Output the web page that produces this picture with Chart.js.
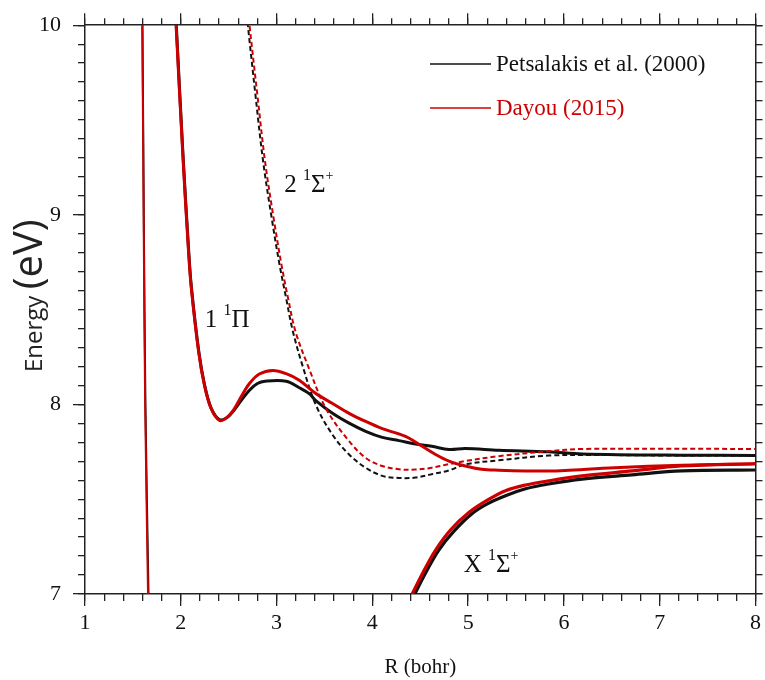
<!DOCTYPE html>
<html>
<head>
<meta charset="utf-8">
<script src="https://cdn.jsdelivr.net/npm/chart.js@4/dist/chart.umd.min.js"></script>
<style>
  body { margin: 0; background: #fff; }
</style>
</head>
<body>
<canvas id="chart" width="765" height="680"></canvas>
<script>
// potential energy curves, R in bohr, E in eV
const piDayouR = [1.941, 1.951, 2.021, 2.080, 2.108, 2.187, 2.247, 2.316, 2.405, 2.48, 2.55, 2.63, 2.717, 2.82, 2.96, 3.10, 3.237, 3.41, 3.584, 3.757, 3.93, 4.104, 4.278, 4.38, 4.52, 4.66, 4.80, 4.97, 5.14, 5.32, 5.6, 5.84, 6.01, 6.53, 7.23, 8.0];
const piDayouE = [10.1, 10.0, 9.318, 8.814, 8.623, 8.275, 8.101, 7.979, 7.915, 7.93, 7.97, 8.04, 8.11, 8.16, 8.179, 8.162, 8.127, 8.057, 8.005, 7.953, 7.910, 7.872, 7.844, 7.823, 7.779, 7.736, 7.701, 7.675, 7.658, 7.653, 7.649, 7.649, 7.652, 7.666, 7.679, 7.687];
const piPetsR = [1.943, 1.953, 2.023, 2.082, 2.11, 2.189, 2.249, 2.318, 2.405, 2.48, 2.55, 2.63, 2.717, 2.80, 2.88, 3.10, 3.237, 3.34, 3.41, 3.584, 3.757, 3.93, 4.104, 4.278, 4.45, 4.62, 4.80, 4.97, 5.32, 5.84, 6.19, 7.23, 8.0];
const piPetsE = [10.1, 10.0, 9.318, 8.814, 8.623, 8.275, 8.101, 7.979, 7.919, 7.93, 7.965, 8.02, 8.075, 8.11, 8.122, 8.122, 8.088, 8.057, 8.02, 7.953, 7.901, 7.858, 7.826, 7.809, 7.791, 7.779, 7.762, 7.767, 7.758, 7.750, 7.739, 7.732, 7.731];

const sig2DayouR = [2.70, 2.717, 2.80, 2.88, 2.97, 3.05, 3.12, 3.20, 3.34, 3.514, 3.757, 3.93, 4.104, 4.278, 4.45, 4.62, 4.80, 4.97, 5.32, 5.84, 6.2, 7.0, 8.0];
const sig2DayouE = [10.08, 10.0, 9.63, 9.28, 8.98, 8.74, 8.56, 8.38, 8.188, 7.979, 7.806, 7.718, 7.675, 7.658, 7.656, 7.666, 7.685, 7.701, 7.727, 7.753, 7.765, 7.766, 7.765];
const sig2PetsR = [2.68, 2.70, 2.78, 2.86, 2.95, 3.03, 3.10, 3.168, 3.27, 3.41, 3.584, 3.757, 3.93, 4.104, 4.278, 4.45, 4.62, 4.80, 4.97, 5.32, 5.84, 6.3, 7.0, 8.0];
const sig2PetsE = [10.1, 10.0, 9.63, 9.28, 8.98, 8.74, 8.56, 8.39, 8.206, 7.997, 7.840, 7.736, 7.666, 7.623, 7.612, 7.614, 7.632, 7.652, 7.684, 7.705, 7.730, 7.733, 7.731, 7.73];

const wallDayouR = [1.594, 1.598, 1.612, 1.628, 1.658, 1.662];
const wallDayouE = [10.1, 10.0, 9.0, 8.0, 7.0, 6.85];
const wallPetsR = [1.596, 1.600, 1.614, 1.631, 1.663, 1.667];
const wallPetsE = [10.1, 10.0, 9.0, 8.0, 7.0, 6.85];

const xDayouR = [4.325, 4.416, 4.53, 4.66, 4.82, 5.01, 5.2, 5.39, 5.6, 5.84, 6.19, 6.71, 7.23, 8.0];
const xDayouE = [6.9, 7.0, 7.115, 7.232, 7.34, 7.431, 7.495, 7.545, 7.575, 7.597, 7.623, 7.649, 7.675, 7.687];
const xPetsR = [4.35, 4.444, 4.56, 4.694, 4.85, 5.04, 5.2, 5.39, 5.6, 5.84, 6.19, 6.71, 7.23, 8.0];
const xPetsE = [6.9, 7.0, 7.115, 7.232, 7.33, 7.423, 7.475, 7.518, 7.555, 7.58, 7.606, 7.628, 7.649, 7.654];

const sources = ["Petsalakis et al. (2000)", "Dayou (2015)"];
const sourceColors = ["#111111", "#cc0000"];

// state labels, anchored in data units (left edge, baseline)
const stateLabels = [
  [{ t: "2 " }, { t: "1", sup: true }, { t: "Σ" }, { t: "+", sup: true, small: true }],
  [{ t: "1 " }, { t: "1", sup: true }, { t: "Π" }],
  [{ t: "X " }, { t: "1", sup: true }, { t: "Σ" }, { t: "+", sup: true, small: true }],
];
const stateR = [3.08, 2.249, 4.954];
const stateE = [9.12, 8.406, 7.117];

const serif = "'Liberation Serif', 'Times New Roman', serif";
const red = sourceColors[1], black = sourceColors[0];

function curve(rs, es) {
  return rs.map((r, i) => ({ x: r, y: es[i] }));
}

function line(data, color, width, dash) {
  return {
    data: data,
    borderColor: color,
    borderWidth: width,
    borderDash: dash || [],
    pointRadius: 0,
    fill: false,
    tension: 0.35,
  };
}

const textPlugin = {
  id: "texts",
  afterDraw(chart) {
    const ctx = chart.ctx;
    const xs = chart.scales.x, ys = chart.scales.y;
    ctx.save();

    // y axis title, mixed sizes
    ctx.translate(42, 372);
    ctx.rotate(-Math.PI / 2);
    ctx.fillStyle = "#222";
    ctx.textBaseline = "alphabetic";
    ctx.textAlign = "left";
    ctx.font = "24px 'Open Sans', sans-serif";
    ctx.fillText("Energy", 0, 0);
    let w = ctx.measureText("Energy ").width;
    ctx.font = "40px 'Open Sans', sans-serif";
    ctx.fillText("(eV)", w, 0);
    ctx.setTransform(1, 0, 0, 1, 0, 0);

    // legend
    ctx.lineWidth = 1.5;
    ctx.font = "23px " + serif;
    ctx.textBaseline = "middle";
    sources.forEach((name, i) => {
      const y = 64 + i * 44;
      ctx.strokeStyle = sourceColors[i];
      ctx.beginPath();
      ctx.moveTo(430, y);
      ctx.lineTo(491, y);
      ctx.stroke();
      ctx.fillStyle = sourceColors[i];
      ctx.fillText(name, 496, y + 1);
    });

    // state names
    ctx.fillStyle = "#111";
    ctx.textBaseline = "alphabetic";
    stateLabels.forEach((parts, i) => {
      let px = xs.getPixelForValue(stateR[i]);
      const py = ys.getPixelForValue(stateE[i]);
      parts.forEach(p => {
        const size = p.small ? 14 : p.sup ? 16 : 25;
        ctx.font = size + "px " + serif;
        ctx.fillText(p.t, px, p.sup ? py - 12 : py);
        px += ctx.measureText(p.t).width;
      });
    });
    ctx.restore();
  },
};

function frame(pos, step, len, size, weight, labels) {
  const horiz = pos === "top" || pos === "bottom";
  return {
    type: "linear",
    position: pos,
    min: horiz ? 1 : 7,
    max: horiz ? 8 : 10,
    weight: weight,
    ticks: { stepSize: step, display: labels, autoSkip: false, maxRotation: 0,
             color: "#111", font: { family: serif, size: 22 } },
    grid: { drawOnChartArea: false, tickLength: len, color: "#222", lineWidth: 1.3 },
    border: { display: weight > 0, color: "#222", width: 1.5 },
    afterFit: s => { if (horiz) s.height = size; else s.width = size; },
  };
}

const scales = {
  x: frame("bottom", 1, 12, 86, 1, true),
  xMinor: frame("bottom", 0.2, 7, 0, 0, false),
  x2: frame("top", 1, 12, 19, 1, false),
  x2Minor: frame("top", 0.2, 7, 0, 0, false),
  y: frame("left", 1, 12, 85, 1, true),
  yMinor: frame("left", 0.1, 7, 0, 0, false),
  y2: frame("right", 1, 7, 7, 1, false),
  y2Minor: frame("right", 0.1, 7, 0, 0, false),
};
scales.x.ticks.padding = 4;
scales.x.title = { display: true, text: "R (bohr)", color: "#111", padding: 0,
                   font: { family: serif, size: 21 } };
scales.y.ticks.padding = 12;

new Chart(document.getElementById("chart"), {
  type: "line",
  data: {
    datasets: [
      line(curve(piDayouR, piDayouE), red, 3),
      line(curve(xDayouR, xDayouE), red, 3.2),
      line(curve(wallDayouR, wallDayouE), red, 2),
      line(curve(sig2DayouR, sig2DayouE), red, 2, [5, 3]),
      line(curve(piPetsR, piPetsE), black, 3),
      line(curve(xPetsR, xPetsE), black, 3.2),
      line(curve(wallPetsR, wallPetsE), black, 2),
      line(curve(sig2PetsR, sig2PetsE), black, 2, [5, 3]),
    ],
  },
  options: {
    responsive: false,
    animation: false,
    events: [],
    layout: { padding: 0 },
    plugins: { legend: { display: false }, tooltip: { enabled: false } },
    scales: scales,
  },
  plugins: [textPlugin],
});
</script>
</body>
</html>
